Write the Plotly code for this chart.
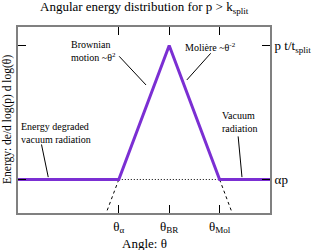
import plotly.graph_objects as go

# Data (conceptual log-log units)
theta_labels = ["θ<sub>α</sub>", "θ<sub>BR</sub>", "θ<sub>Mol</sub>"]
theta_pos = [1, 2, 3]
energy_x = [-1, 1, 2, 3, 4]
energy_y = [1, 1, 5, 1, 1]
level_labels = ["αp", "p t/t<sub>split</sub>"]
level_pos = [1, 5]
dash_left_x = [1, 0.75]
dash_left_y = [1, 0]
dash_right_x = [3, 3.25]
dash_right_y = [1, 0]
dot_x = [1, 3]
dot_y = [1, 1]

purple = "#7b2fd3"
font = "Liberation Serif, Times New Roman, serif"

fig = go.Figure()
fig.add_trace(go.Scatter(x=dot_x, y=dot_y, mode="lines",
                         line=dict(color="black", width=1, dash="1px,2px"), hoverinfo="skip"))
fig.add_trace(go.Scatter(x=dash_left_x, y=dash_left_y, mode="lines",
                         line=dict(color="black", width=1, dash="3px,3px"), hoverinfo="skip"))
fig.add_trace(go.Scatter(x=dash_right_x, y=dash_right_y, mode="lines",
                         line=dict(color="black", width=1, dash="3px,3px"), hoverinfo="skip"))
fig.add_trace(go.Scatter(x=energy_x, y=energy_y, mode="lines",
                         line=dict(color=purple, width=3), hoverinfo="skip"))

ann_font = dict(family=font, size=10, color="black")


def label(text, x, y):
    return dict(text=text, x=x, y=y, xref="x", yref="y", showarrow=False,
                xanchor="center", yanchor="middle", align="left", font=ann_font)


def leader(x0, y0, x1, y1):
    return dict(text="", x=x1, y=y1, ax=x0, ay=y0, xref="x", yref="y",
                axref="x", ayref="y", showarrow=True, arrowhead=0, arrowwidth=1,
                arrowcolor="black", standoff=0, startstandoff=0)


annotations = [
    label("Brownian<br>motion ~θ<sup>2</sup>", 0.49, 4.84),
    leader(0.98, 4.72, 1.54, 3.82),
    label("Molière ~θ<sup>-2</sup>", 2.81, 4.96),
    leader(2.85, 4.81, 2.35, 3.97),
    label("Energy degraded<br>vacuum radiation", -0.25, 2.39),
    leader(-0.54, 2.09, -0.40, 1.07),
    label("Vacuum<br>radiation", 3.40, 2.72),
    leader(3.365, 2.33, 3.444, 1.07),
    dict(text="Angular energy distribution for p > k<sub>split</sub>", x=0.5, y=1.0,
         xref="paper", yref="paper", yshift=20, showarrow=False, xanchor="center",
         yanchor="middle", font=dict(family=font, size=13, color="black")),
    dict(text="Energy: de/d log(p) d log(θ)", x=0, y=0.5, xref="paper", yref="paper",
         xshift=-11, textangle=-90, showarrow=False, xanchor="center", yanchor="middle",
         font=dict(family=font, size=11.5, color="black")),
    dict(text="Angle: θ", x=0.5, y=0, xref="paper", yref="paper", yshift=-30,
         showarrow=False, xanchor="center", yanchor="middle",
         font=dict(family=font, size=13, color="black")),
]

fig.update_layout(
    width=313, height=250,
    margin=dict(l=18, r=43, t=27, b=37),
    paper_bgcolor="white", plot_bgcolor="white",
    showlegend=False,
    font=dict(family=font, size=13, color="black"),
    annotations=annotations,
    xaxis=dict(range=[-1, 4], tickvals=theta_pos, ticktext=theta_labels,
               ticks="inside", ticklen=8, tickwidth=1, tickcolor="black",
               showline=True, linecolor="#808080", linewidth=2, mirror="ticks",
               showgrid=False, zeroline=False, automargin=False, ticklabelstandoff=0,
               tickfont=dict(family=font, size=13)),
    yaxis=dict(range=[0, 5.55], tickvals=level_pos, ticktext=level_labels, side="right",
               ticks="inside", ticklen=8, tickwidth=1, tickcolor="black",
               showline=True, linecolor="#808080", linewidth=2, mirror="ticks",
               showgrid=False, zeroline=False, automargin=False,
               tickfont=dict(family=font, size=13)),
)

fig.write_html("out.html", config={"displayModeBar": False},
               post_script="document.body.style.margin='0';document.body.style.padding='0';")
